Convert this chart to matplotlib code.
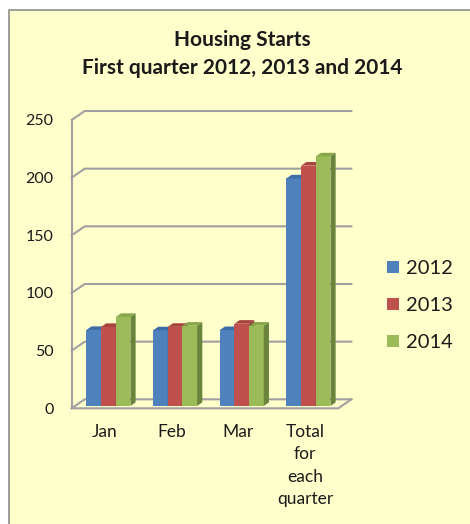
import numpy as np
import matplotlib
matplotlib.use("Agg")
import matplotlib.pyplot as plt
from matplotlib.patches import Polygon, Rectangle
from matplotlib.lines import Line2D

# data
categories = ["Jan", "Feb", "Mar", "Total\nfor\neach\nquarter"]
years = ["2012", "2013", "2014"]
starts_2012 = [65.9, 65.6, 65.8, 197.3]
starts_2013 = [68.5, 68.6, 71.3, 208.4]
starts_2014 = [77.2, 69.6, 69.6, 216.4]
yticks = [0, 50, 100, 150, 200, 250]

front = ["#4F81BD", "#C0504D", "#9BBB59"]
side = ["#385D8A", "#8C3A38", "#6B843C"]
top = ["#3E6CA6", "#A8423F", "#86A64A"]
grid_col = "#A0A0A0"
bg = "#FFFFCC"

plt.rcParams['font.family'] = ['Lato', 'DejaVu Sans']

fig = plt.figure(figsize=(4.7, 5.24), dpi=100)
fig.patch.set_facecolor("white")
# chart area box (cut off at right and bottom like the screenshot)
fig.patches.append(Rectangle((9 / 470, -0.1), 1.2, (524 - 10) / 524 + 0.1,
                             transform=fig.transFigure, facecolor=bg,
                             edgecolor="#8C8C8C", linewidth=1.2, zorder=-1))

ax = fig.add_axes([71.7 / 470, 115.7 / 524, 266.7 / 470, 288.3 / 524])
ax.set_facecolor("none")
ax.set_xlim(-0.5, 3.5)
ax.set_ylim(0, 250)
for s in ax.spines.values():
    s.set_visible(False)

# depth of the 3d box in data units
dxc = 13 / 66.7
dyu = 9 / 1.1533
x = np.arange(len(categories))

# walls: left axis, diagonals and back gridlines
ax.plot([-0.5, -0.5], [0, 250], color=grid_col, lw=1.5, clip_on=False, zorder=1)
for v in yticks:
    ax.plot([-0.5, -0.5 + dxc, 3.5 + dxc], [v, v + dyu, v + dyu],
            color=grid_col, lw=1.5, clip_on=False, zorder=1)
# floor
ax.plot([-0.5, 3.5, 3.5 + dxc], [0, 0, dyu], color=grid_col, lw=1.5,
        clip_on=False, zorder=1)

# bars
f = 0.26          # depth of bar front face
w = 0.22
bdx = 0.4 * dxc
bdy = 0.4 * dyu
series = [starts_2012, starts_2013, starts_2014]
for j, vals in enumerate(series):
    xs = x + f * dxc + (j - 1) * w
    base = f * dyu
    ax.bar(xs, vals, width=w, bottom=base, color=front[j], linewidth=0,
           zorder=3 + j, label=years[j], clip_on=False)
    for xc, v in zip(xs, vals):
        x0, x1 = xc - w / 2, xc + w / 2
        t = base + v
        ax.add_patch(Polygon([(x1, base), (x1, t), (x1 + bdx, t + bdy),
                              (x1 + bdx, base + bdy)], closed=True,
                             facecolor=side[j], linewidth=0, zorder=3 + j,
                             clip_on=False))
        ax.add_patch(Polygon([(x0, t), (x1, t), (x1 + bdx, t + bdy),
                              (x0 + bdx, t + bdy)], closed=True,
                             facecolor=top[j], linewidth=0, zorder=3 + j,
                             clip_on=False))

ax.set_yticks(yticks)
ax.set_xticks(x)
ax.set_xticklabels(categories, fontsize=12.5, linespacing=1.5, color="#1a1a1a")
ax.tick_params(axis='y', length=0, pad=13, labelsize=11.5, labelcolor="#1a1a1a")
ax.tick_params(axis='x', length=0, pad=11)

fig.text(242 / 470, 1 - 54 / 524, "Housing Starts\nFirst quarter 2012, 2013 and 2014",
         ha="center", va="center", fontsize=15, fontweight="bold",
         linespacing=1.5, color="#1a1a1a")

handles = [Line2D([], [], marker="s", linestyle="none", markersize=8.6,
                  markerfacecolor=c, markeredgewidth=0) for c in front]
fig.legend(handles, years, loc="center left", bbox_to_anchor=(387 / 470, 1 - 305.5 / 524),
           frameon=False, fontsize=14.5, handlelength=0.6, handletextpad=0.35,
           labelspacing=1.0, borderpad=0, borderaxespad=0, labelcolor="#1a1a1a")

fig.savefig("out.png", dpi=100)
